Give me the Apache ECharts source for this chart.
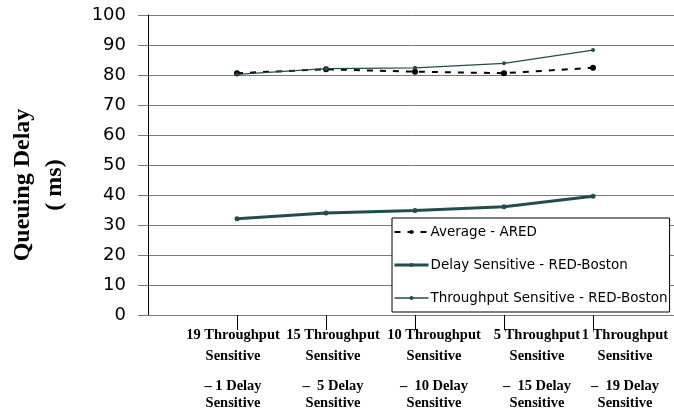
<!DOCTYPE html>
<html>
<head>
<meta charset="utf-8">
<script src="https://cdn.jsdelivr.net/npm/echarts@6/dist/echarts.min.js"></script>
<style>
html,body{margin:0;padding:0;background:#fff;}
#chart{width:674px;height:413px;}
</style>
</head>
<body>
<div id="chart"></div>
<script>
// Category labels (line 1 / line 2 / line 3 / line 4)
const catLine1 = ['19 Throughput', '15 Throughput', '10 Throughput', '5 Throughput', '1 Throughput'];
const catLine2 = ['Sensitive', 'Sensitive', 'Sensitive', 'Sensitive', 'Sensitive'];
const catLine3 = ['\u2013 1 Delay', '\u2013  5 Delay', '\u2013  10 Delay', '\u2013  15 Delay', '\u2013  19 Delay'];
const catLine4 = ['Sensitive', 'Sensitive', 'Sensitive', 'Sensitive', 'Sensitive'];

// Series values (ms)
const averageARED = [80.6, 81.9, 81.1, 80.6, 82.4];
const delayRedBoston = [32.1, 34.0, 34.8, 36.1, 39.6];
const throughputRedBoston = [80.2, 82.1, 82.4, 83.9, 88.3];

// Y axis ticks
const yMin = 0, yMax = 100, yStep = 10;

const seriesNames = ['Average - ARED', 'Delay Sensitive - RED-Boston', 'Throughput Sensitive - RED-Boston'];

// ---- layout (not data) ----
// horizontal nudge of each category label, as in the original figure
const labelNudge = [-4, 7, 19, 33, 32];
const nudgePadding = dx => dx < 0 ? [0, -2 * dx, 0, 0] : [0, 0, 0, 2 * dx];

// Build padded category axis (blank slot before and after)
const categories = [{ value: '' }]
  .concat(catLine1.map((l, i) => ({
    value: [l, catLine2[i], catLine3[i], catLine4[i]].join('\n'),
    textStyle: { padding: nudgePadding(labelNudge[i]) }
  })), [{ value: '' }]);
const pad = arr => [null].concat(arr, [null]);

const teal = '#234d4d';

const chart = echarts.init(document.getElementById('chart'));
chart.setOption({
  animation: false,
  backgroundColor: '#fff',
  grid: { left: 148, top: 15, bottom: 98, right: -8, containLabel: false, outerBoundsMode: 'none' },
  xAxis: {
    type: 'category',
    data: categories,
    boundaryGap: false,
    axisLine: { lineStyle: { color: '#7a7a7a', width: 1 } },
    axisTick: {
      length: 15,
      lineStyle: { color: '#000', width: 1 },
      interval: (idx) => idx > 0 && idx < categories.length - 1
    },
    axisLabel: {
      interval: 0,
      margin: 10,
      formatter: (v) => {
        if (!v) return '';
        const p = v.split('\n');
        return '{a|' + p[0] + '}\n{a|' + p[1] + '}\n{g| }\n{b|' + p[2] + '}\n{b|' + p[3] + '}';
      },
      rich: {
        a: { fontFamily: 'Liberation Serif', fontWeight: 'bold', fontSize: 14.5, lineHeight: 21, color: '#000', align: 'center' },
        b: { fontFamily: 'Liberation Serif', fontWeight: 'bold', fontSize: 14.5, lineHeight: 17, color: '#000', align: 'center' },
        g: { fontSize: 8, lineHeight: 11 }
      }
    },
    splitLine: { show: false }
  },
  yAxis: {
    type: 'value',
    min: yMin, max: yMax, interval: yStep,
    axisLine: { show: true, lineStyle: { color: '#000', width: 1 } },
    axisTick: { show: true, length: 10, lineStyle: { color: '#7a7a7a' } },
    axisLabel: { margin: 22, fontFamily: 'DejaVu Sans', fontSize: 18, color: '#000' },
    splitLine: { show: true, lineStyle: { color: '#7a7a7a', width: 1 } }
  },
  legend: {
    orient: 'vertical',
    left: 392, top: 218,
    padding: [7, 2, 7, 1],
    itemGap: 19,
    itemWidth: 34,
    itemHeight: 5,
    backgroundColor: '#fff',
    borderColor: '#000',
    borderWidth: 1,
    borderRadius: 0,
    textStyle: { fontFamily: 'DejaVu Sans', fontSize: 13.5, color: '#000', padding: [0, 0, 0, -3] },
    data: [
      { name: seriesNames[0], lineStyle: { width: 2 } },
      { name: seriesNames[1], lineStyle: { width: 3 } },
      { name: seriesNames[2], lineStyle: { width: 1.3 } }
    ]
  },
  graphic: [{
    type: 'text',
    x: 39, y: 185,
    rotation: Math.PI / 2,
    style: {
      text: 'Queuing Delay\n( ms)',
      font: 'bold 24px "Liberation Serif"',
      fill: '#000',
      align: 'center',
      verticalAlign: 'middle',
      lineHeight: 32
    }
  }],
  series: [
    {
      name: seriesNames[0], type: 'line', data: pad(averageARED),
      symbol: 'circle', symbolSize: 6,
      itemStyle: { color: '#000' },
      lineStyle: { color: '#000', width: 2, type: [6, 7] },
      z: 3
    },
    {
      name: seriesNames[1], type: 'line', data: pad(delayRedBoston),
      symbol: 'circle', symbolSize: 5,
      itemStyle: { color: teal },
      lineStyle: { color: teal, width: 3 },
      z: 4
    },
    {
      name: seriesNames[2], type: 'line', data: pad(throughputRedBoston),
      symbol: 'circle', symbolSize: 4,
      itemStyle: { color: teal },
      lineStyle: { color: teal, width: 1.3 },
      z: 5
    }
  ]
});
</script>
</body>
</html>
